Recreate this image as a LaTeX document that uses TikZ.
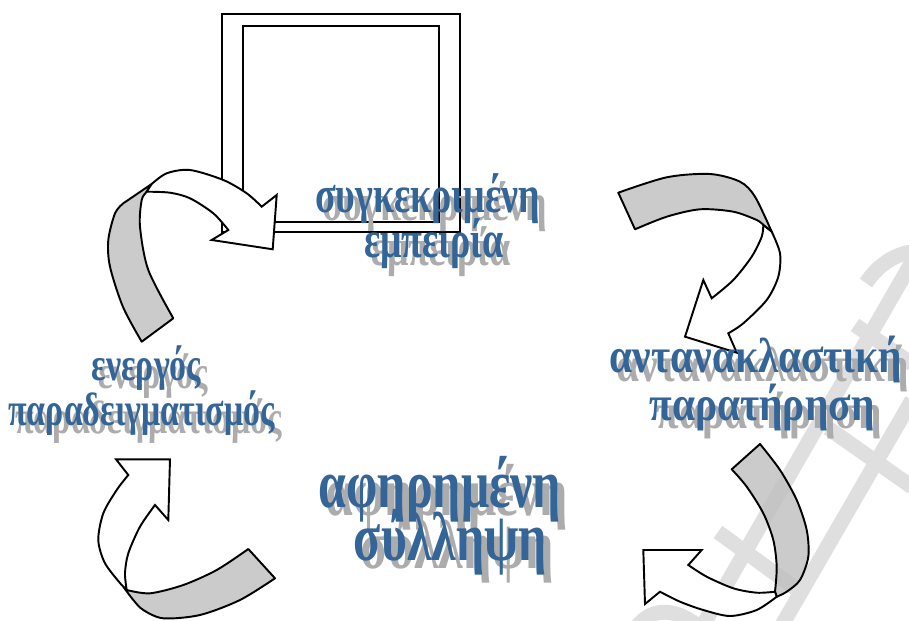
\documentclass[tikz,border=0pt]{standalone}
\usepackage{fontspec}
\setmainfont{Liberation Serif}
\definecolor{kblue}{RGB}{52,101,152}
\definecolor{kshadow}{RGB}{172,172,172}
\definecolor{ribbongray}{RGB}{191,191,191}
\definecolor{wmgray}{RGB}{223,223,223}
\tikzset{
  wa/.style={anchor=base, inner sep=0pt, outer sep=0pt},
  waf/.style={wa, text=kblue},
  was/.style={wa, text=kshadow},
  szA/.style={font=\bfseries\fontsize{21.6}{24}\selectfont},
  szB/.style={font=\bfseries\fontsize{19.3}{22}\selectfont},
  szC/.style={font=\bfseries\fontsize{21}{24}\selectfont},
  szD/.style={font=\bfseries\fontsize{28.4}{30}\selectfont},
  ribbon/.style={draw=black, line width=1.1pt, fill=ribbongray, fill opacity=0.8, line join=round},
  front/.style={draw=black, line width=1.1pt, fill=white, line join=miter},
  frame/.style={draw=black, line width=1.2pt},
  wm/.style={draw=wmgray, line width=8.5pt, line cap=butt, line join=miter},
}
\newcommand{\tallA}[1]{\scalebox{1}[1.38]{#1}}
\newcommand{\tallC}[1]{\scalebox{1.12}[1.33]{#1}}
\begin{document}
\begin{tikzpicture}[x=0.02cm,y=-0.02cm]
\useasboundingbox (0,0) rectangle (909,621);
\fill[white] (0,0) rectangle (909,621);

% watermark (partially visible, light grey)
\begin{scope}
\clip (0,0) rectangle (909,621);
\draw[wm] (703,625) -- (912,262);
\draw[wm] (782,625) -- (912,400);
\draw[wm] (718,532) -- (806,596);
\draw[wm] (828,428) -- (912,487);
\draw[wm] (855,325) -- (912,364);
\draw[wm] (866,283) .. controls (880,262) and (900,252) .. (915,252);
\draw[wm] (636,628) .. controls (650,608) and (675,606) .. (700,628);
\end{scope}

% double frame
\draw[frame] (222,14) rectangle (460,232);
\draw[frame] (243,26) rectangle (439,222);

% arrow A (top left)
\draw[ribbon] (141.7,341.7) -- plot[smooth] coordinates {(141.7,341.7) (123,307) (110,266.7) (108.3,240) (115,213.3) (123.3,203.3)} -- (151.7,184) -- plot[smooth] coordinates {(151.7,184) (146.7,191.7) (141.7,200) (140,226.7) (148.3,270) (173.3,318.3)} -- cycle;
\draw[front] (151.7,184) -- plot[smooth] coordinates {(151.7,184) (166.7,173.3) (190,170) (223.3,180) (246.7,193.3) (261.7,206.7)} -- (276.7,195) -- (272.7,249.3) -- (211.7,240) -- plot[smooth] coordinates {(228.3,230) (213.3,213.3) (190,198.3) (170,192.7) (146.7,191.7)} -- cycle;

% arrow B (top right)
\draw[ribbon] (635,229.3) -- (618.3,192.7) -- plot[smooth] coordinates {(618.3,192.7) (666.7,177.3) (710,174) (740,181.7) (755,196.7) (771.7,231.7)} -- (763.3,225) -- plot[smooth] coordinates {(763.3,225) (756.7,220) (733.3,211.7) (700,209.3) (666.7,216.7) (635,229.3)} -- cycle;
\draw[front] (771.7,231.7) -- plot[smooth] coordinates {(771.7,231.7) (780,253.3) (778.3,276.7) (766.7,300) (743.3,323.3) (728.3,333.3)} -- (736.7,352.7) -- (685,336.7) -- (703.3,280) -- plot[smooth] coordinates {(711.7,298.3) (733.3,280) (751.7,256.7) (761.7,236.7) (763.3,225)} -- cycle;

% arrow C (bottom left)
\draw[ribbon] (248.3,549) -- (275,578.3) -- plot[smooth] coordinates {(275,578.3) (240,600) (200,615) (163.3,618.3) (143.3,610) (133.3,600) (123.3,586.7)} -- plot[smooth] coordinates {(126.7,590) (150,593.3) (183.3,585) (216.7,570) (248.3,549)} -- cycle;
\draw[front] (121.7,585) -- plot[smooth] coordinates {(121.7,585) (105,563.3) (98.3,540) (103.3,513.3) (116.7,490) (128.3,475)} -- (116,459.3) -- (170,459.3) -- (168.3,520) -- plot[smooth] coordinates {(155,505) (140,526.7) (128.3,553.3) (125,573.3) (126.7,590)} -- cycle;

% arrow D (bottom right)
\draw[ribbon] (731.7,469.3) -- (760,444) -- plot[smooth] coordinates {(760,444) (780,470) (796.7,500) (806.7,530) (808.3,556.7) (800,580) (786.7,591.7) (776.7,596.7)} -- plot[smooth] coordinates {(775,591.7) (776.7,566.7) (773.3,540) (763.3,513.3) (746.7,486.7) (731.7,469.3)} -- cycle;
\draw[front] (776.7,596.7) -- plot[smooth] coordinates {(776.7,596.7) (756.7,610) (730,616) (703.3,610) (680,601.7) (660,591.7)} -- (645,604) -- (643.3,550) -- (701.7,550) -- plot[smooth] coordinates {(688.3,565) (706.7,576.7) (733.3,588.3) (756.7,592.7) (775,591.7)} -- cycle;

% labels: shadows
\node[was, szA] (s1a) at (434.5,221) {\tallA{συγκεκριμένη}};
\node[was, szA] (s1b) at (441,266) {\tallA{εμπειρία}};
\node[was, szB] (s2a) at (153.5,388) {\tallA{ενεργός}};
\node[was, szB] (s2b) at (148.5,433) {\tallA{παραδειγματισμός}};
\node[was, szC] (s3a) at (763,381) {\tallC{αντανακλαστική}};
\node[was, szC] (s3b) at (769,428) {\tallC{παρατήρηση}};
\node[was, szD] (s4a) at (447,515) {\tallA{αφηρημένη}};
\node[was, szD] (s4b) at (457.5,568) {\tallA{σύλληψη}};
% labels: front
\node[waf, szA] (t1a) at (427.5,213) {\tallA{συγκεκριμένη}};
\node[waf, szA] (t1b) at (434,258) {\tallA{εμπειρία}};
\node[waf, szB] (t2a) at (146.5,380) {\tallA{ενεργός}};
\node[waf, szB] (t2b) at (141.5,425) {\tallA{παραδειγματισμός}};
\node[waf, szC] (t3a) at (756,373) {\tallC{αντανακλαστική}};
\node[waf, szC] (t3b) at (762,420) {\tallC{παρατήρηση}};
\node[waf, szD] (t4a) at (440,507) {\tallA{αφηρημένη}};
\node[waf, szD] (t4b) at (450.5,560) {\tallA{σύλληψη}};
\end{tikzpicture}
\end{document}
